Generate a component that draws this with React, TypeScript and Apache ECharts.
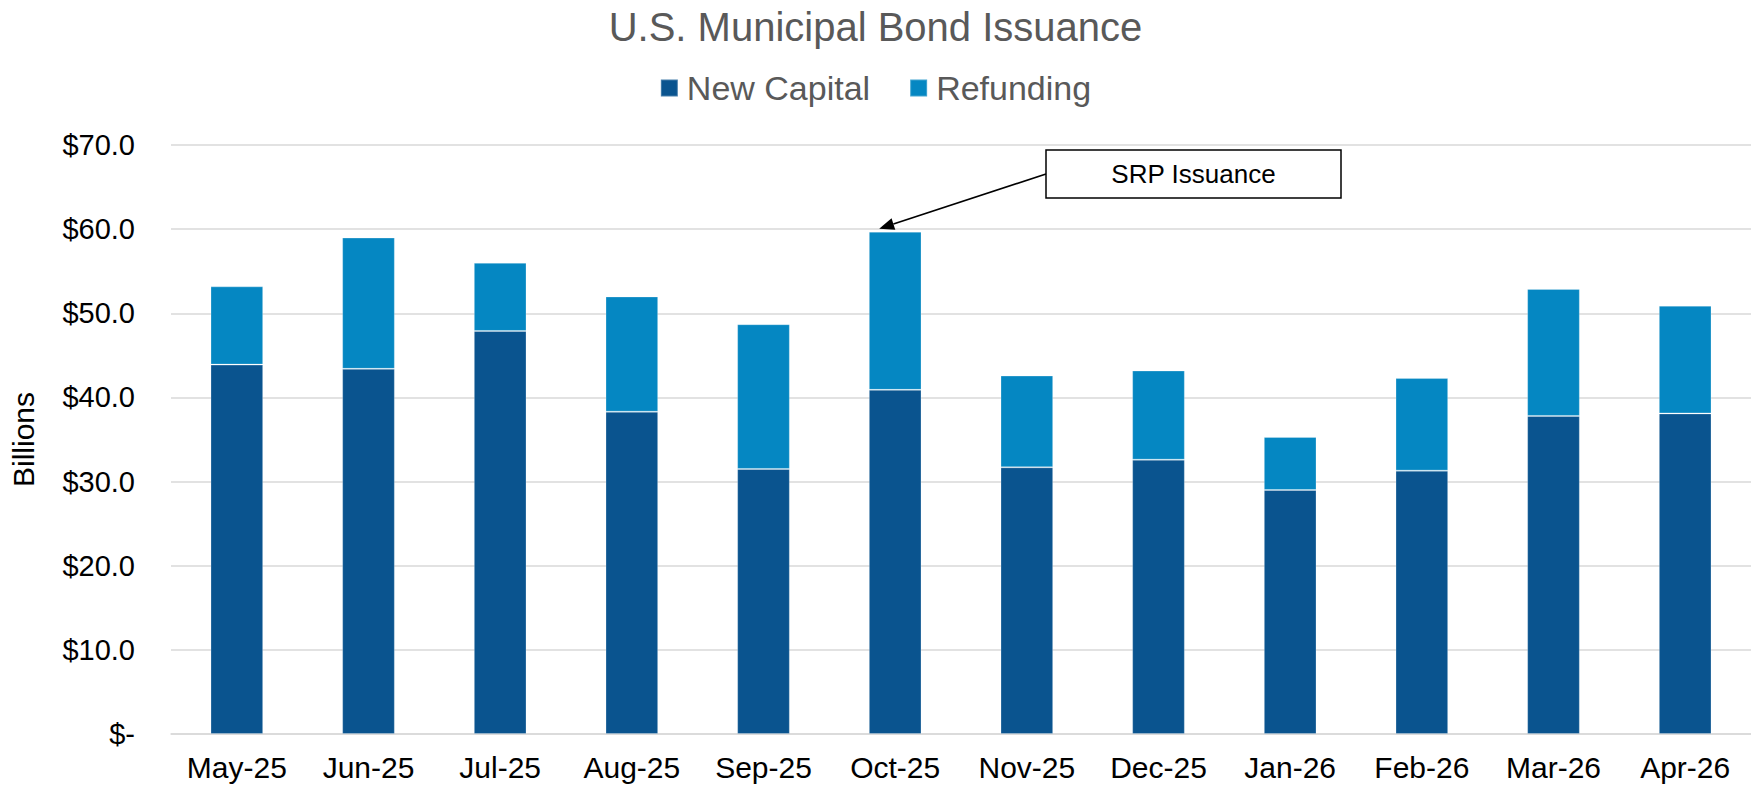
import React, { useEffect, useRef } from "react";
import * as echarts from "echarts";

const categories = ["May-25", "Jun-25", "Jul-25", "Aug-25", "Sep-25", "Oct-25", "Nov-25", "Dec-25", "Jan-26", "Feb-26", "Mar-26", "Apr-26"];
const newCapital = [43.9, 43.4, 47.9, 38.3, 31.5, 40.9, 31.7, 32.6, 29.0, 31.3, 37.8, 38.1];
const refunding = [9.3, 15.6, 8.1, 13.7, 17.2, 18.8, 10.9, 10.6, 6.3, 11.0, 15.1, 12.8];
const seriesNames = ["New Capital", "Refunding"];
const yMin = 0;
const yMax = 70;
const yInterval = 10;
const chartTitle = "U.S. Municipal Bond Issuance";
const yAxisName = "Billions";
const annotationText = "SRP Issuance";
const annotationCategory = "Oct-25";

const FONT = "'Liberation Sans', Arial, Helvetica, sans-serif";

export default function App() {
  const ref = useRef<HTMLDivElement>(null);
  useEffect(() => {
    document.body.style.margin = "0";
    const chart = echarts.init(ref.current!, null, { renderer: "svg" });
    chart.setOption({
      animation: false,
      backgroundColor: "#ffffff",
      textStyle: { fontFamily: FONT },
      title: {
        text: chartTitle,
        left: "center",
        top: 2,
        textStyle: { fontFamily: FONT, fontSize: 40, fontWeight: "normal", color: "#595959" },
      },
      legend: {
        data: seriesNames,
        left: "center",
        top: 66,
        icon: "rect",
        itemWidth: 17,
        itemHeight: 17,
        itemGap: 39,
        textStyle: { fontFamily: FONT, fontSize: 34, color: "#595959", padding: [0, 0, 0, 4] },
      },
      grid: { left: 169, right: 0, top: 145, bottom: 55, containLabel: false },
      xAxis: {
        type: "category",
        data: categories,
        axisTick: { show: false },
        axisLine: { lineStyle: { color: "#d9d9d9", width: 1.5 } },
        axisLabel: { color: "#000000", fontFamily: FONT, fontSize: 30, margin: 18, interval: 0 },
      },
      yAxis: {
        type: "value",
        min: yMin,
        max: yMax,
        interval: yInterval,
        name: yAxisName,
        nameLocation: "middle",
        nameGap: 133,
        nameTextStyle: { color: "#000000", fontFamily: FONT, fontSize: 30 },
        axisLine: { show: false },
        axisTick: { show: false },
        splitLine: { lineStyle: { color: "#d9d9d9", width: 1.5 } },
        axisLabel: {
          color: "#000000",
          fontFamily: FONT,
          fontSize: 29,
          margin: 36,
          formatter: (v: number) => (v === 0 ? "$-" : "$" + v.toFixed(1)),
        },
      },
      series: [
        {
          name: seriesNames[0],
          type: "bar",
          stack: "total",
          barWidth: "40%",
          data: newCapital,
          itemStyle: { color: "#0A548F", borderColor: "rgba(255,255,255,0.25)", borderWidth: 1 },
        },
        {
          name: seriesNames[1],
          type: "bar",
          stack: "total",
          barWidth: "40%",
          data: refunding,
          itemStyle: { color: "#0587C2", borderColor: "rgba(255,255,255,0.25)", borderWidth: 1 },
        },
      ],
    });

    const idx = categories.indexOf(annotationCategory);
    const total = newCapital[idx] + refunding[idx];
    const p = chart.convertToPixel({ xAxisIndex: 0, yAxisIndex: 0 }, [idx, total]) as number[];
    const tipX = p[0] - 16;
    const tipY = p[1] - 3;
    const boxX = 1046;
    const boxY = 150;
    const boxW = 295;
    const boxH = 48;
    const startX = boxX;
    const startY = boxY + boxH / 2;
    const dx = tipX - startX;
    const dy = tipY - startY;
    const len = Math.sqrt(dx * dx + dy * dy);
    const ux = dx / len;
    const uy = dy / len;
    const headLen = 15;
    const headHalf = 6;
    const baseX = tipX - ux * headLen;
    const baseY = tipY - uy * headLen;
    const nx = -uy;
    const ny = ux;

    chart.setOption({
      graphic: [
        {
          type: "line",
          shape: { x1: startX, y1: startY, x2: baseX, y2: baseY },
          style: { stroke: "#000000", lineWidth: 1.75 },
          z: 10,
        },
        {
          type: "polygon",
          shape: {
            points: [
              [tipX, tipY],
              [baseX + nx * headHalf, baseY + ny * headHalf],
              [baseX - nx * headHalf, baseY - ny * headHalf],
            ],
          },
          style: { fill: "#000000" },
          z: 10,
        },
        {
          type: "rect",
          shape: { x: boxX, y: boxY, width: boxW, height: boxH },
          style: { fill: "#ffffff", stroke: "#000000", lineWidth: 1.5 },
          z: 10,
        },
        {
          type: "text",
          x: boxX + boxW / 2,
          y: boxY + boxH / 2,
          style: {
            text: annotationText,
            fill: "#000000",
            fontFamily: FONT,
            fontSize: 26,
            align: "center",
            verticalAlign: "middle",
          },
          z: 11,
        },
      ],
    });

    return () => chart.dispose();
  }, []);
  return <div ref={ref} style={{ position: "absolute", left: 0, top: 0, width: 1751, height: 789 }} />;
}
